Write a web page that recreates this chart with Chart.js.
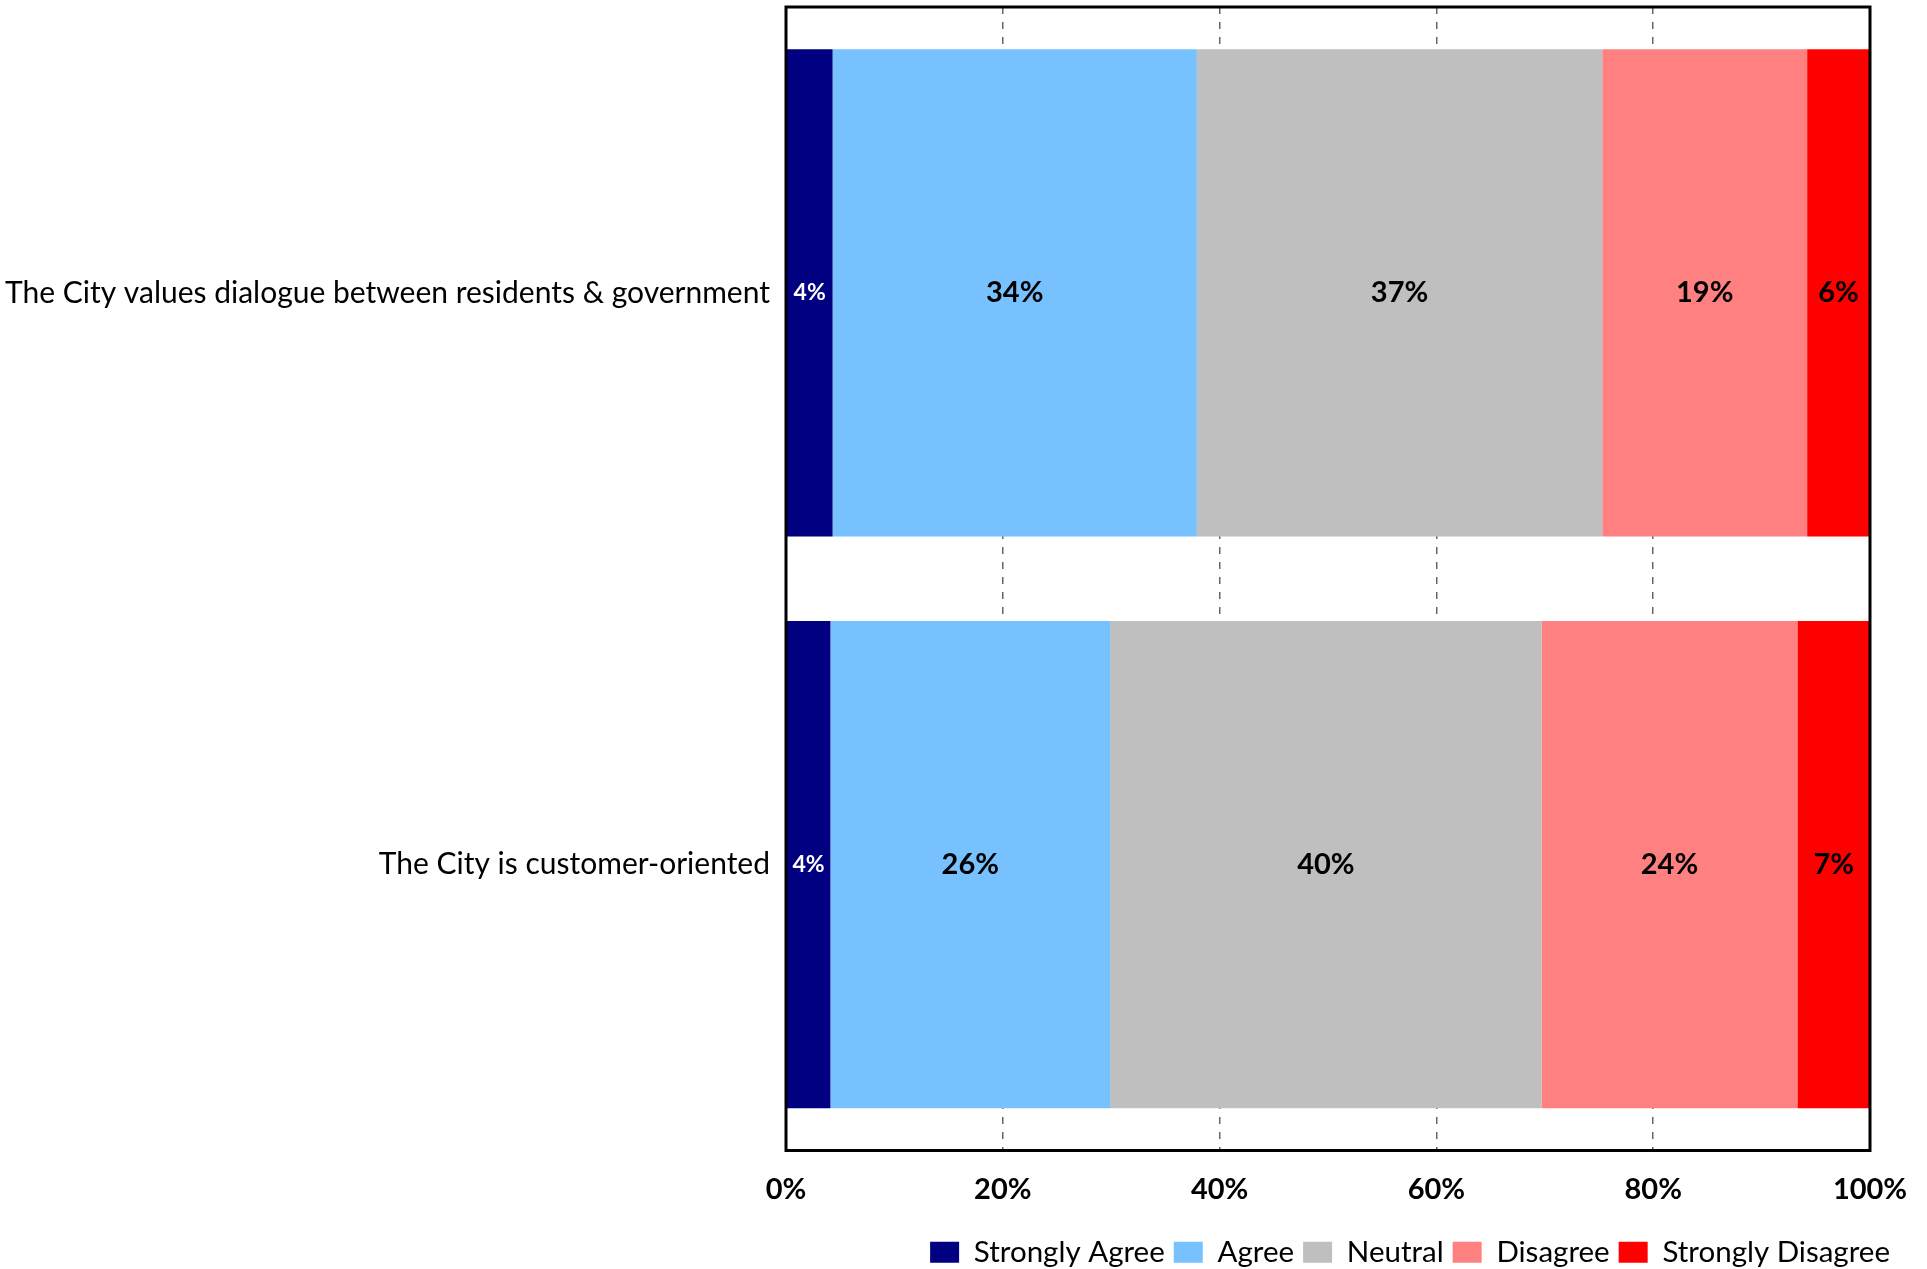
<!DOCTYPE html>
<html lang="en">
<head>
    <meta charset="UTF-8">
    <title>City Perception Survey</title>
    <script src="https://cdn.jsdelivr.net/npm/chart.js"></script>
    <style>
        html, body {
            margin: 0;
            padding: 0;
            background: #fff;
        }

        .chart-wrap {
            width: 1927px;
            height: 1269px;
            position: relative;
        }
    </style>
</head>
<body>
    <div class="chart-wrap">
        <canvas id="agreeChart"></canvas>
    </div>

    <script>
        // survey data (percent of respondents)
        const statements = [
            'The City values dialogue between residents & government',
            'The City is customer-oriented'
        ];
        const responses = ['Strongly Agree', 'Agree', 'Neutral', 'Disagree', 'Strongly Disagree'];
        const stronglyAgree = [4.3, 4.1];
        const agree = [33.6, 25.8];
        const neutral = [37.4, 39.8];
        const disagree = [18.9, 23.6];
        const stronglyDisagree = [5.8, 6.7];
        const xTicks = [0, 20, 40, 60, 80, 100];

        const seriesValues = [stronglyAgree, agree, neutral, disagree, stronglyDisagree];
        const colors = ['#000080', '#77C1FE', '#BFBFBF', '#FF8080', '#FF0000'];
        const labelColors = ['#ffffff', '#000000', '#000000', '#000000', '#000000'];

        const FONT = 'Lato, "Open Sans", sans-serif';

        // value labels in the middle of each segment
        const segmentLabels = {
            id: 'segmentLabels',
            afterDatasetsDraw(chart) {
                const ctx = chart.ctx;
                ctx.save();
                ctx.textAlign = 'center';
                ctx.textBaseline = 'middle';
                chart.data.datasets.forEach((ds, i) => {
                    const meta = chart.getDatasetMeta(i);
                    ctx.font = 'bold ' + (i === 0 ? 23 : 29) + 'px ' + FONT;
                    ctx.fillStyle = labelColors[i];
                    meta.data.forEach((bar, j) => {
                        const p = bar.getCenterPoint();
                        ctx.fillText(Math.round(ds.data[j]) + '%', p.x, p.y);
                    });
                });
                ctx.restore();
            }
        };

        // black frame round the plot area
        const plotFrame = {
            id: 'plotFrame',
            afterDatasetsDraw(chart) {
                const a = chart.chartArea;
                const ctx = chart.ctx;
                ctx.save();
                ctx.strokeStyle = '#000';
                ctx.lineWidth = 3;
                ctx.strokeRect(a.left, a.top, a.right - a.left, a.bottom - a.top);
                ctx.restore();
            }
        };

        const ctx = document.getElementById('agreeChart').getContext('2d');
        new Chart(ctx, {
            type: 'bar',
            data: {
                labels: statements,
                datasets: responses.map((name, i) => ({
                    label: name,
                    data: seriesValues[i],
                    backgroundColor: colors[i],
                    borderWidth: 0,
                    categoryPercentage: 1.0,
                    barPercentage: 0.852
                }))
            },
            options: {
                indexAxis: 'y',
                responsive: true,
                maintainAspectRatio: false,
                animation: false,
                layout: {
                    padding: { top: 7, right: 28, left: 0, bottom: -8 }
                },
                scales: {
                    x: {
                        stacked: true,
                        min: 0,
                        max: 100,
                        afterBuildTicks(scale) {
                            scale.ticks = xTicks.map(v => ({ value: v }));
                        },
                        afterFit(scale) {
                            scale.height = 78;
                            scale.paddingRight = 57;
                        },
                        ticks: {
                            padding: 22,
                            color: '#000',
                            maxRotation: 0,
                            font: { family: FONT, size: 29, weight: 'bold' },
                            callback: v => v + '%'
                        },
                        grid: {
                            color: '#666',
                            lineWidth: 1.5,
                            drawTicks: false
                        },
                        border: { display: false, dash: [7, 8] }
                    },
                    y: {
                        stacked: true,
                        afterFit(scale) {
                            scale.width = 786;
                            scale.paddingTop = 0;
                            scale.paddingBottom = 0;
                        },
                        ticks: {
                            padding: 16,
                            color: '#000',
                            font: { family: FONT, size: 30 }
                        },
                        grid: { display: false, drawTicks: false },
                        border: { display: false }
                    }
                },
                plugins: {
                    legend: {
                        position: 'bottom',
                        align: 'end',
                        labels: {
                            boxWidth: 29,
                            boxHeight: 21,
                            padding: 9,
                            color: '#000',
                            font: { family: FONT, size: 29.5 }
                        }
                    },
                    tooltip: { enabled: false }
                }
            },
            plugins: [segmentLabels, plotFrame]
        });
    </script>
</body>
</html>
